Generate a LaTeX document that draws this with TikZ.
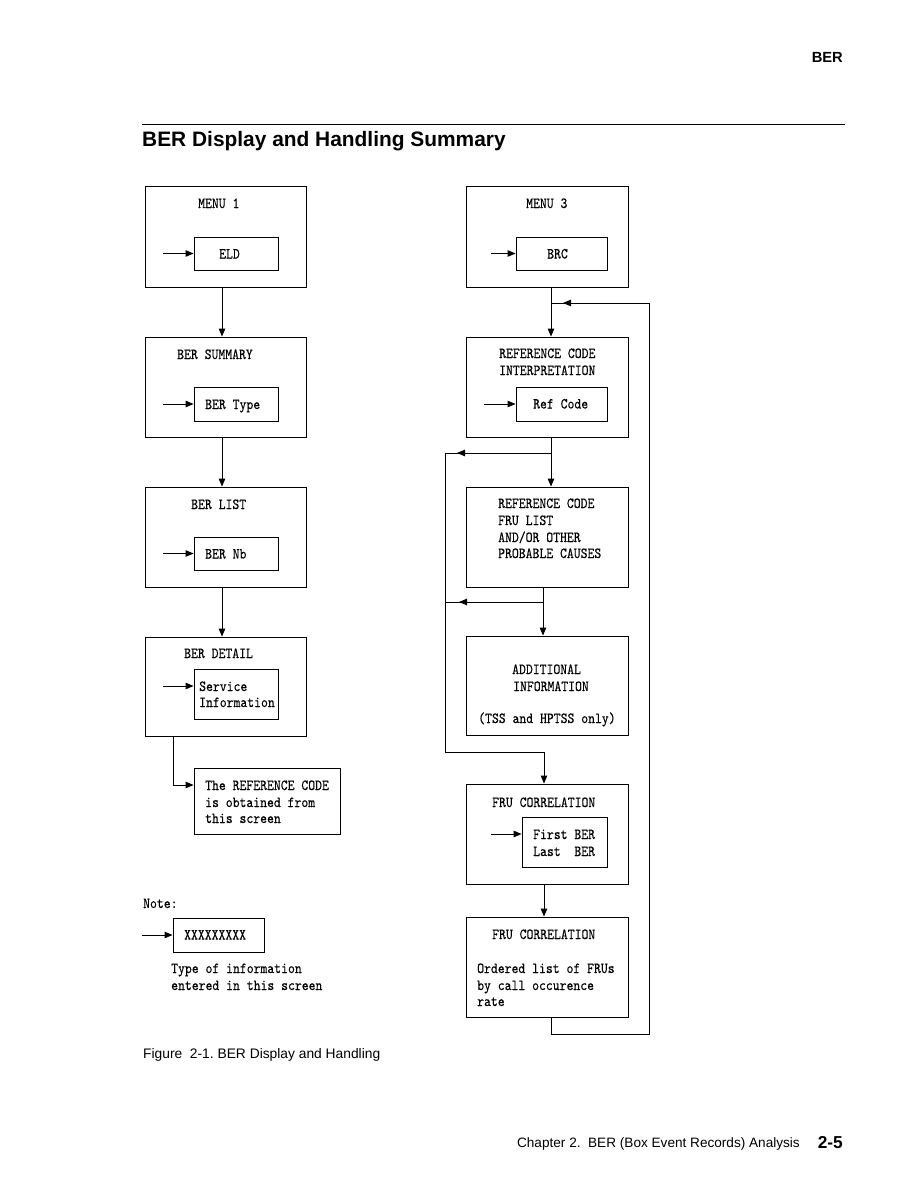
\documentclass[tikz,border=0pt]{standalone}
\usepackage{fontspec}
\setmainfont{Liberation Sans}
\newfontfamily\monof{lmmono10-regular.otf}[FakeStretch=0.85,FakeBold=0.2]
\usetikzlibrary{arrows.meta}
\begin{document}
\begin{tikzpicture}[x=1pt,y=-1pt,
  box/.style={draw, line width=0.9pt, inner sep=0pt},
  obox/.style={box, minimum height=101pt},
  mt/.style={font=\monof\fontsize{15.4}{18}\selectfont, inner sep=0pt, anchor=base west},
  arr/.style={line width=0.9pt, -{Triangle[length=8pt,width=6.5pt]}},
  ln/.style={line width=0.9pt}]
\fill[white] (0,0) rectangle (918,1188);
\useasboundingbox (0,0) rectangle (918,1188);

% page header
\node[font=\bfseries\fontsize{14.7}{17}\selectfont, inner sep=0pt, anchor=base east] (hdr) at (843,63) {BER};
\coordinate (rl) at (142,125);
\coordinate (rr) at (845,125);
\draw[line width=1pt] (rl) -- (rr);
\node[font=\bfseries\fontsize{20.9}{24}\selectfont, inner sep=0pt, anchor=base west] (title) at (142,146.5) {BER Display and Handling Summary};

% left column boxes
\node[obox, minimum width=161pt] (m1) at (225.5,236.5) {};
\node[obox, minimum width=161pt, minimum height=100pt] (bs) at (225.5,387) {};
\node[obox, minimum width=161pt, minimum height=100pt] (bl) at (225.5,537) {};
\node[obox, minimum width=161pt, minimum height=99pt] (bd) at (225.5,686.5) {};
\node[box, minimum width=84pt, minimum height=33pt] (eld) at (236,253.5) {};
\node[box, minimum width=84pt, minimum height=34pt] (btype) at (236,404) {};
\node[box, minimum width=84pt, minimum height=33pt] (bnb) at (236,553.5) {};
\node[box, minimum width=84pt, minimum height=50pt] (svc) at (236,694) {};
\node[box, minimum width=146pt, minimum height=66pt] (refb) at (267,801) {};

\node[mt] (t1) at (198,208) {MENU 1};
\node[mt] (t2) at (219,258.5) {ELD};
\node[mt] (t3) at (177,359) {BER SUMMARY};
\node[mt] (t4) at (205,409) {BER Type};
\node[mt] (t5) at (191,509) {BER LIST};
\node[mt] (t6) at (205,558.5) {BER Nb};
\node[mt] (t7) at (184,658) {BER DETAIL};
\node[mt] (t8) at (199,691) {Service};
\node[mt] (t9) at (199,707) {Information};
\node[mt] (t10) at (205,790) {The REFERENCE CODE};
\node[mt] (t11) at (205,807) {is obtained from};
\node[mt] (t12) at (205,823) {this screen};

% left connectors
\coordinate (i1) at (163,253.5);
\coordinate (i2) at (163,404);
\coordinate (i3) at (163,553.5);
\coordinate (i4) at (163,686);
\draw[arr] (i1) -- (i1 -| eld.west);
\draw[arr] (i2) -- (i2 -| btype.west);
\draw[arr] (i3) -- (i3 -| bnb.west);
\draw[arr] (i4) -- (i4 -| svc.west);
\draw[arr] ([xshift=-3.5pt]m1.south) -- ([xshift=-3.5pt]bs.north);
\draw[arr] ([xshift=-3.5pt]bs.south) -- ([xshift=-3.5pt]bl.north);
\draw[arr] ([xshift=-3.5pt]bl.south) -- ([xshift=-3.5pt]bd.north);
\coordinate (c5) at (173,785);
\draw[arr] (bd.south -| c5) -- (c5) -- (c5 -| refb.west);

% right column boxes
\node[obox, minimum width=162pt] (m3) at (547,236.5) {};
\node[obox, minimum width=162pt, minimum height=100pt] (rci) at (547,387) {};
\node[obox, minimum width=162pt, minimum height=100pt] (frl) at (547,537) {};
\node[obox, minimum width=162pt, minimum height=99pt] (add) at (547,685.5) {};
\node[obox, minimum width=162pt, minimum height=100pt] (fc1) at (547,834) {};
\node[obox, minimum width=162pt, minimum height=100pt] (fc2) at (547,967) {};
\node[box, minimum width=91pt, minimum height=33pt] (brc) at (561.5,253.5) {};
\node[box, minimum width=91pt, minimum height=34pt] (rcode) at (561.5,404) {};
\node[box, minimum width=85pt, minimum height=50pt] (fb) at (564.5,842) {};

\node[mt] (t13) at (526,208) {MENU 3};
\node[mt] (t14) at (547,258.5) {BRC};
\node[mt] (t15) at (499,358) {REFERENCE CODE};
\node[mt] (t16) at (499,375) {INTERPRETATION};
\node[mt] (t17) at (533,408.5) {Ref Code};
\node[mt] (t18) at (498,508) {REFERENCE CODE};
\node[mt] (t19) at (498,525) {FRU LIST};
\node[mt] (t20) at (498,542) {AND/OR OTHER};
\node[mt] (t21) at (498,558) {PROBABLE CAUSES};
\node[mt] (t22) at (512,674) {ADDITIONAL};
\node[mt] (t23) at (513,691) {INFORMATION};
\node[mt] (t24) at (478,723) {(TSS and HPTSS only)};
\node[mt] (t25) at (492,807) {FRU CORRELATION};
\node[mt] (t26) at (533,839) {First BER};
\node[mt] (t27) at (533,856) {Last\ \ BER};
\node[mt] (t28) at (492,939) {FRU CORRELATION};
\node[mt] (t29) at (477,973) {Ordered list of FRUs};
\node[mt] (t30) at (477,990) {by call occurence};
\node[mt] (t31) at (477,1006) {rate};

% right connectors
\coordinate (i5) at (491,253.5);
\coordinate (i6) at (484,404);
\coordinate (i7) at (491,834);
\draw[arr] (i5) -- (i5 -| brc.west);
\draw[arr] (i6) -- (i6 -| rcode.west);
\draw[arr] (i7) -- (i7 -| fb.west);
\draw[arr] ([xshift=4pt]m3.south) -- ([xshift=4pt]rci.north);
\draw[arr] ([xshift=4pt]rci.south) -- ([xshift=4pt]frl.north);
\draw[arr] ([xshift=-4pt]frl.south) -- ([xshift=-4pt]add.north);
\draw[arr] ([xshift=-3pt]fc1.south) -- ([xshift=-3pt]fc2.north);

% outer loop on the right
\coordinate (j1) at (551,303);
\coordinate (r1) at (649,303);
\coordinate (r2) at (649,1034);
\coordinate (b1) at (551,1034);
\coordinate (ah1) at (563,303);
\draw[ln] ([xshift=4pt]fc2.south) -- (b1) -- (r2) -- (r1) -- (j1);
\draw[arr] (r1) -- (ah1);

% left loops
\coordinate (j2) at (551,453);
\coordinate (l1) at (445,453);
\coordinate (ah2) at (457,453);
\coordinate (j3) at (543,602);
\coordinate (l3) at (445,602);
\coordinate (ah3) at (459,602);
\coordinate (l2) at (445,752);
\coordinate (j4) at (544,752);
\draw[ln] (j2) -- (l1) -- (l2) -- (j4);
\draw[arr] (j2) -- (ah2);
\draw[ln] (j3) -- (l3);
\draw[arr] (j3) -- (ah3);
\draw[arr] (j4) -- (j4 |- fc1.north);

% note
\node[mt] (t32) at (143,908) {Note:};
\node[box, minimum width=91pt, minimum height=34pt] (nb) at (218.5,935) {};
\coordinate (i8) at (142,935);
\draw[arr] (i8) -- (nb.west);
\node[mt] (t33) at (184,939.5) {XXXXXXXXX};
\node[mt] (t34) at (171,973) {Type of information};
\node[mt] (t35) at (171,990) {entered in this screen};

% captions
\node[font=\fontsize{13.8}{16}\selectfont, inner sep=0pt, anchor=base west] (cap) at (143,1058) {Figure\ \ 2-1.\ BER Display and Handling};
\node[font=\fontsize{13.6}{16}\selectfont, inner sep=0pt, anchor=base east] (ftr) at (800,1147) {Chapter 2.\ \ BER (Box Event Records) Analysis};
\node[font=\bfseries\fontsize{17.3}{20}\selectfont, inner sep=0pt, anchor=base east] (pg) at (843,1148) {2-5};
\end{tikzpicture}
\end{document}
